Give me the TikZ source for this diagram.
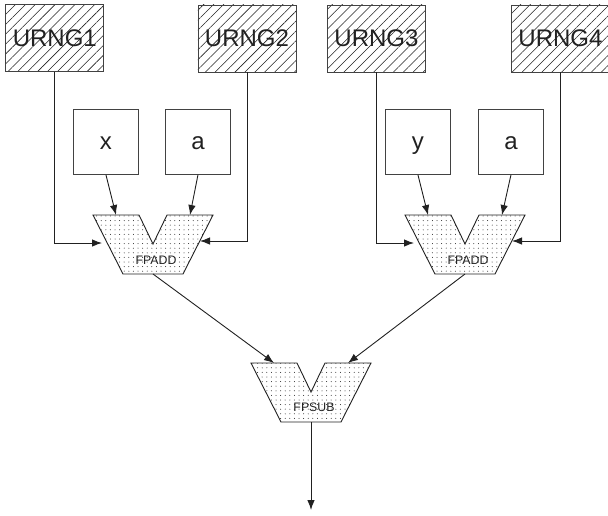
\documentclass[tikz,border=0pt]{standalone}
\usepackage{fontspec}
\setmainfont{Liberation Sans}
\usetikzlibrary{arrows.meta,patterns.meta}
\definecolor{ink}{gray}{0.13}
\tikzset{
  x=1pt,y=-1pt,
  urng/.style={draw=ink!85,line width=0.9pt,minimum width=98pt,minimum height=67pt,inner sep=0pt,anchor=north west,text=ink,font=\fontsize{24}{24}\selectfont,
    pattern={Lines[angle=45,distance=7pt,line width=0.55pt]},pattern color=ink},
  inbox/.style={draw=ink!85,line width=0.9pt,minimum width=65pt,minimum height=65pt,inner sep=0pt,anchor=north west,text=ink,text height=16pt,text depth=0pt,font=\fontsize{24}{24}\selectfont},
  unitlabel/.style={inner sep=0pt,text=ink,font=\fontsize{12.3}{12.3}\selectfont},
  dotted fill/.style={draw=ink,line width=0.9pt,line join=miter,
    pattern={Dots[radius=0.5pt,distance=4.6pt,angle=0]},pattern color=ink},
  wire/.style={draw=ink,line width=0.9pt,-{Latex[length=10pt,width=7.5pt]}},
}
\newcommand{\vunit}[3]{% name, x of notch, y of top
  \coordinate (#1in1) at (#2-37,#3);
  \coordinate (#1in2) at (#2+37,#3);
  \coordinate (#1left) at (#2-51,#3+28);
  \coordinate (#1right) at (#2+47,#3+26);
  \coordinate (#1out) at (#2,#3+59);
  \path[dotted fill] (#2-60,#3) -- (#2-14,#3) -- (#2,#3+29) -- (#2+14,#3) -- (#2+60,#3) -- (#2+30,#3+59) -- (#2-30,#3+59) -- cycle;
}
\begin{document}
\begin{tikzpicture}
\useasboundingbox (0,0) rectangle (608,515);
\node[urng] (u1) at (5.5,4.5) {URNG1};
\node[urng] (u2) at (197.5,4.5) {URNG2};
\node[urng] (u3) at (327,4.5) {URNG3};
\node[urng] (u4) at (511,4.5) {URNG4};
\node[inbox] (x) at (73,109) {x};
\node[inbox] (a1) at (165,109) {a};
\node[inbox] (y) at (385,109) {y};
\node[inbox] (a2) at (478,109) {a};
\vunit{A}{153}{215}
\vunit{B}{465}{215}
\vunit{C}{311}{363}
\node[unitlabel] (la) at (156,260) {FPADD};
\node[unitlabel] (lb) at (468,260) {FPADD};
\node[unitlabel] (lc) at (314,407) {FPSUB};
\coordinate (end) at (311,510);
\draw[wire] (u1.south) |- (Aleft);
\draw[wire] (u2.south) |- (Aright);
\draw[wire] (u3.south) |- (Bleft);
\draw[wire] (u4.south) |- (Bright);
\draw[wire] (x.south) -- (Ain1);
\draw[wire] (a1.south) -- (Ain2);
\draw[wire] (y.south) -- (Bin1);
\draw[wire] (a2.south) -- (Bin2);
\draw[wire] (Aout) -- (Cin1);
\draw[wire] (Bout) -- (Cin2);
\draw[wire] (Cout) -- (end);
\end{tikzpicture}
\end{document}
